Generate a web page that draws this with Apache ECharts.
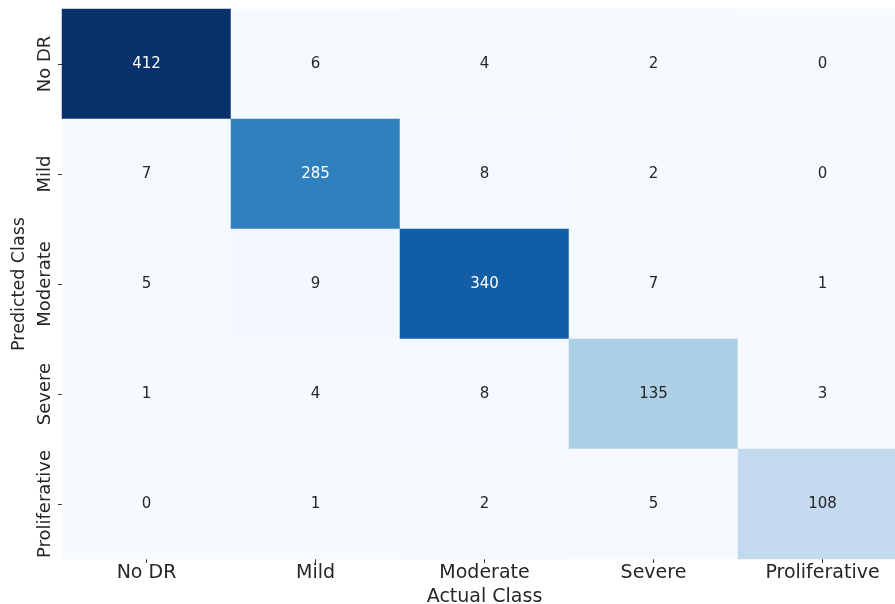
<!DOCTYPE html>
<html>
<head>
<meta charset="utf-8">
<script src="https://cdn.jsdelivr.net/npm/echarts@6/dist/echarts.min.js"></script>
<style>html,body{margin:0;padding:0;background:#fff}#c{width:895px;height:604px}</style>
</head>
<body>
<div id="c"></div>
<script>
const actualClasses = ['No DR', 'Mild', 'Moderate', 'Severe', 'Proliferative'];
const predictedClasses = ['No DR', 'Mild', 'Moderate', 'Severe', 'Proliferative'];
// rows = predicted class, columns = actual class
const rowNoDR = [412, 6, 4, 2, 0];
const rowMild = [7, 285, 8, 2, 0];
const rowModerate = [5, 9, 340, 7, 1];
const rowSevere = [1, 4, 8, 135, 3];
const rowProliferative = [0, 1, 2, 5, 108];
const matrix = [rowNoDR, rowMild, rowModerate, rowSevere, rowProliferative];

const maxVal = Math.max(...matrix.flat());
const data = [];
matrix.forEach((row, y) => row.forEach((v, x) => {
  data.push({
    value: [x, y, v],
    label: { color: v / maxVal > 0.6 ? '#ffffff' : '#262626' }
  });
}));

const font = 'DejaVu Sans';
const chart = echarts.init(document.getElementById('c'), null, { renderer: 'canvas' });
chart.setOption({
  animation: false,
  backgroundColor: '#ffffff',
  grid: { left: 62, top: 9, width: 845, height: 550, containLabel: false, outerBoundsMode: 'none' },
  xAxis: {
    type: 'category',
    data: actualClasses,
    name: 'Actual Class',
    nameLocation: 'middle',
    nameGap: 28,
    nameTextStyle: { fontFamily: font, fontSize: 19, color: '#262626' },
    axisLine: { show: false },
    axisTick: { show: true, alignWithLabel: true, length: 4, lineStyle: { color: '#333' } },
    axisLabel: { fontFamily: font, fontSize: 19, color: '#262626', margin: 5, interval: 0 },
    splitLine: { show: false }
  },
  yAxis: {
    type: 'category',
    data: predictedClasses,
    inverse: true,
    name: 'Predicted Class',
    nameLocation: 'middle',
    nameGap: 34,
    nameRotate: 90,
    nameTextStyle: { fontFamily: font, fontSize: 17.5, color: '#262626' },
    axisLine: { show: false },
    axisTick: { show: true, alignWithLabel: true, length: 4, lineStyle: { color: '#333' } },
    axisLabel: { fontFamily: font, fontSize: 18, color: '#262626', rotate: 90, margin: 8, interval: 0 },
    splitLine: { show: false }
  },
  visualMap: {
    show: false,
    type: 'continuous',
    min: 0,
    max: maxVal,
    dimension: 2,
    inRange: { color: ['#f7fbff', '#deebf7', '#c6dbef', '#9ecae1', '#6baed6', '#4292c6', '#2171b5', '#08519c', '#08306b'] }
  },
  series: [{
    type: 'heatmap',
    data: data,
    label: { show: true, fontFamily: font, fontSize: 15 },
    itemStyle: { borderWidth: 0 },
    emphasis: { disabled: true }
  }]
});
</script>
</body>
</html>
